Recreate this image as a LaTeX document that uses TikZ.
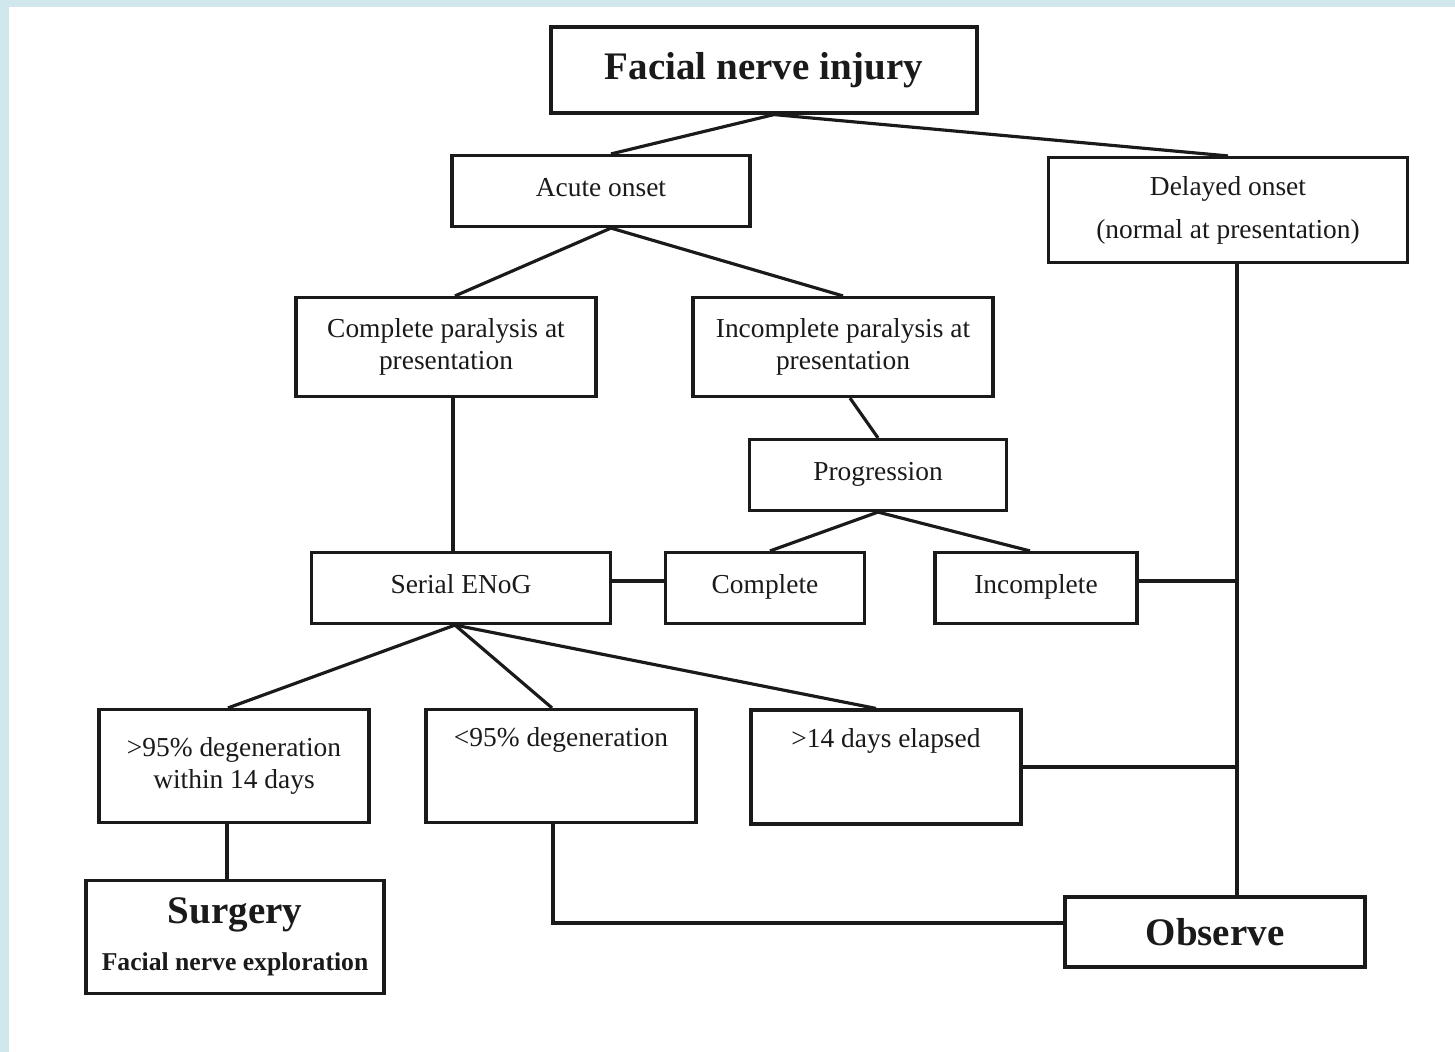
\documentclass[tikz,border=0pt]{standalone}
\usepackage{fontspec}
\setmainfont{Liberation Serif}
\usetikzlibrary{calc}
\definecolor{fnedge}{HTML}{D0E7EE}
\definecolor{fnline}{HTML}{1A1A1A}

\begin{document}
\begin{tikzpicture}[x=0.1mm, y=-0.1mm, line width=0.9pt,
      box/.style={draw=fnline, fill=white, inner sep=2pt, align=center, text=fnline, font=\fontsize{7.8}{9.1}\selectfont},
      big/.style={box, font=\fontsize{11.1}{13}\selectfont\bfseries},
      toptext/.style={text height=6pt, text depth=17pt},
      oneline/.style={text height=6pt, text depth=3pt},
      link/.style={draw=fnline, line width=0.9pt}]

      \useasboundingbox (0,0) rectangle (1455,1052);
      \fill[fnedge] (0,0) rectangle (1455,1052);
      \fill[white] (9,7) rectangle (1455,1052);

      \node[big, minimum width=42.6mm, minimum height=8.6mm] (inj) at (764,70) {Facial nerve injury};
      \node[box, oneline, minimum width=29.8mm, minimum height=7.1mm] (acute) at (601,191) {Acute onset};
      \node[box, minimum width=35.9mm, minimum height=10.5mm, font=\fontsize{7.8}{12.2}\selectfont] (delay) at (1228,210) {Delayed onset\\(normal at presentation)};

      \node[box, minimum width=30mm, minimum height=9.9mm] (cpar) at (446,347) {Complete paralysis at\\presentation};
      \node[box, minimum width=30mm, minimum height=9.9mm] (ipar) at (843,347) {Incomplete paralysis at\\presentation};
      \node[box, oneline, minimum width=25.7mm, minimum height=7.1mm] (prog) at (878,475) {Progression};

      \node[box, oneline, minimum width=29.9mm, minimum height=7.1mm] (enog) at (461,588) {Serial ENoG};
      \node[box, oneline, minimum width=19.9mm, minimum height=7.1mm] (comp) at (765,588) {Complete};
      \node[box, oneline, minimum width=20.2mm, minimum height=7.1mm] (incomp) at (1036,588) {Incomplete};

      \node[box, minimum width=27mm, minimum height=11.3mm] (gt95) at (234,766) {>95\% degeneration\\within 14 days};
      \node[box, toptext, minimum width=27mm, minimum height=11.3mm] (lt95) at (561,766) {<95\% degeneration};
      \node[box, toptext, minimum width=27mm, minimum height=11.4mm] (gt14) at (886,767) {>14 days elapsed};

      \node[box, minimum width=29.8mm, minimum height=11.3mm, font=\fontsize{7.3}{13.3}\selectfont\bfseries] (surg) at (235,937) {{\fontsize{11.1}{13.3}\selectfont Surgery}\\Facial nerve exploration};
      \node[big, minimum width=30mm, minimum height=7mm] (obs) at (1215,932) {Observe};

      \coordinate (vx) at (1237,0);
      \draw[link] ([xshift=1mm]inj.south) -- ([xshift=1mm]acute.north);
      \draw[link] ([xshift=1mm]inj.south) -- (delay.north);
      \draw[link] ([xshift=1mm]acute.south) -- ([xshift=.9mm]cpar.north);
      \draw[link] ([xshift=1mm]acute.south) -- (ipar.north);
      \draw[link] ([xshift=.7mm]ipar.south) -- (prog.north);
      \draw[link] ([xshift=.7mm]cpar.south) -- ([xshift=.7mm]cpar.south |- enog.north);
      \draw[link] ([yshift=.7mm]enog.east) -- ([yshift=.7mm]comp.west);
      \draw[link] (prog.south) -- ([xshift=.5mm]comp.north);
      \draw[link] (prog.south) -- ([xshift=-.6mm]incomp.north);
      \draw[link] (delay.south -| vx) -- (obs.north -| vx);
      \draw[link] ([yshift=.7mm]incomp.east) -- ([yshift=.7mm]incomp.east -| vx);
      \draw[link] (gt14.east) -- (gt14.east -| vx);
      \draw[link] ([xshift=-.6mm]enog.south) -- ([xshift=-.6mm]gt95.north);
      \draw[link] ([xshift=-.6mm]enog.south) -- ([xshift=-.9mm]lt95.north);
      \draw[link] ([xshift=-.6mm]enog.south) -- ([xshift=-1mm]gt14.north);
      \draw[link] ([xshift=-.7mm]gt95.south) -- ([xshift=-.7mm]gt95.south |- surg.north);
      \draw[link] ([xshift=-.8mm]lt95.south) |- ([yshift=.9mm]obs.west);
    \end{tikzpicture}
\end{document}
